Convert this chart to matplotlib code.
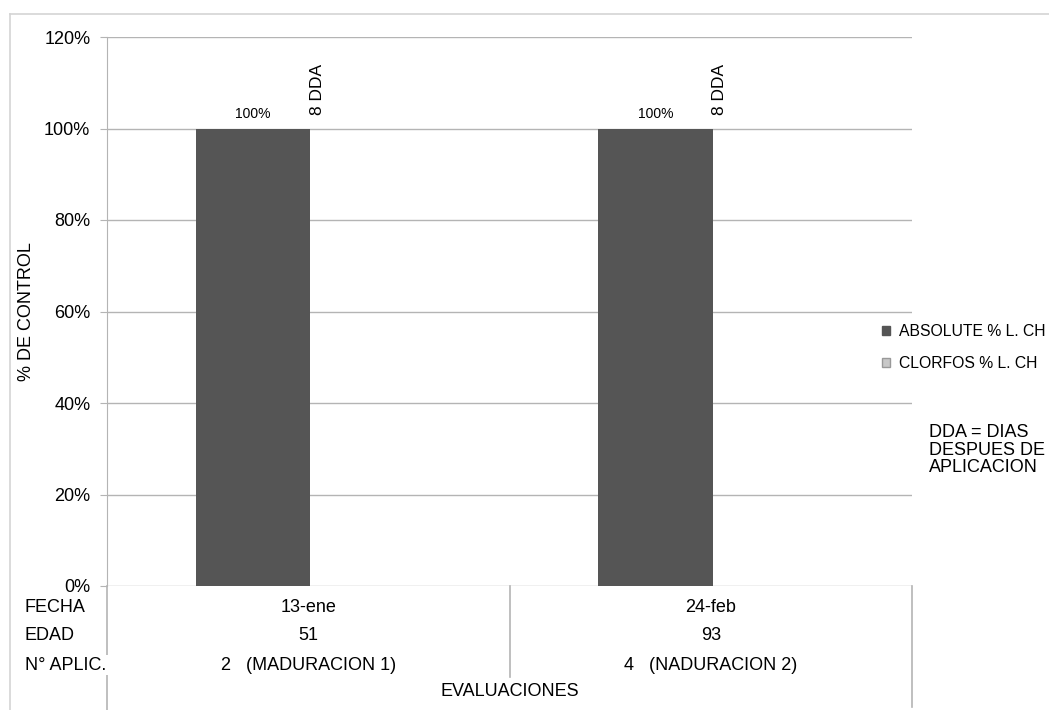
import matplotlib.pyplot as plt
from matplotlib.lines import Line2D
from matplotlib.patches import Patch
import matplotlib.transforms as mtransforms

plt.rcParams['font.family'] = ['Liberation Sans', 'DejaVu Sans']

# evaluation data
fechas = ['13-ene', '24-feb']
edades = ['51', '93']
aplicaciones = ['2   (MADURACION 1)', '4   (NADURACION 2)']
absolute = [100, 100]
clorfos = [0, 0]
dda_labels = ['8 DDA', '8 DDA']
row_titles = ['FECHA', 'EDAD', 'N° APLIC.']

dark = '#555555'
light = '#c8c8c8'
grid = '#b4b4b4'

fig = plt.figure(figsize=(10.49, 7.10), dpi=100)
W, H = 1049, 710
ax = fig.add_axes([107 / W, (H - 586) / H, 805 / W, 549 / H])

x = list(range(len(fechas)))
w = 0.285
off = 0.005
ax.bar([i - w / 2 + off for i in x], absolute, w, color=dark, label='ABSOLUTE % L. CH')
ax.bar([i + w / 2 + off for i in x], clorfos, w, color=light, edgecolor='#999999',
       linewidth=0.6, label='CLORFOS % L. CH')

for i, v in zip(x, absolute):
    ax.text(i - w / 2 + off, v + 1.6, f'{v}%', ha='center', va='bottom', fontsize=10)
for i, lab in zip(x, dda_labels):
    ax.text(i + 0.022, 103.0, lab, rotation=90, ha='center', va='bottom', fontsize=12.5)

ax.set_xlim(-0.5, 1.5)
ax.set_ylim(0, 120)
ax.set_yticks(range(0, 121, 20))
ax.set_yticklabels([f'{t}%' for t in range(0, 121, 20)], fontsize=13)
ax.set_xticks([])
ax.yaxis.grid(True, color=grid, linewidth=1.0)
ax.set_axisbelow(True)
for s in ['top', 'right', 'bottom']:
    ax.spines[s].set_visible(False)
ax.spines['left'].set_color(grid)
ax.tick_params(axis='y', length=5, color=grid, pad=7)
ax.set_ylabel('% DE CONTROL', fontsize=13)
ax.yaxis.set_label_coords(-72 / 805, 0.5)

# table under the axis
tr = mtransforms.blended_transform_factory(ax.transData, ax.transAxes)
px = 1 / 549
rows = [-21 * px, -50 * px, -79 * px]
for i in x:
    ax.text(i, rows[0], fechas[i], transform=tr, ha='center', va='center', fontsize=13)
    ax.text(i, rows[1], edades[i], transform=tr, ha='center', va='center', fontsize=13)
    ax.text(i, rows[2], aplicaciones[i], transform=tr, ha='center', va='center', fontsize=13)
for t, ry in zip(row_titles, rows):
    fig.text(25 / W, (H - 586) / H + ry * 549 / H, t, ha='left', va='center',
             fontsize=13, bbox=dict(facecolor='white', edgecolor='none', pad=1))
ax.text(0.5, -105 * px, 'EVALUACIONES', transform=tr, ha='center', va='center', fontsize=13)

for xv, bottom in [(-0.5, -130), (0.5, -91), (1.5, -121)]:
    ax.add_line(Line2D([xv, xv], [0, bottom * px], transform=tr, color=grid,
                       linewidth=1.2, clip_on=False, zorder=0))

# outer frame lines
fig.add_artist(Line2D([10 / W, 10 / W], [0, (H - 14) / H], color='#d4d4d4', linewidth=1.2))
fig.add_artist(Line2D([10 / W, 1], [(H - 14) / H, (H - 14) / H], color='#d4d4d4', linewidth=1.2))

handles = [Patch(facecolor=dark, edgecolor=dark),
           Patch(facecolor=light, edgecolor='#999999')]
fig.legend(handles, ['ABSOLUTE % L. CH', 'CLORFOS % L. CH'], loc='upper left',
           bbox_to_anchor=(868 / W, (H - 310) / H), frameon=False, fontsize=11.3,
           handlelength=0.5, handleheight=0.5, handletextpad=0.6, labelspacing=1.1)

fig.text(929 / W, (H - 424) / H, 'DDA = DIAS\nDESPUES DE\nAPLICACION', ha='left', va='top',
         fontsize=13, linespacing=1.05)

fig.savefig('out.png', dpi=100)
